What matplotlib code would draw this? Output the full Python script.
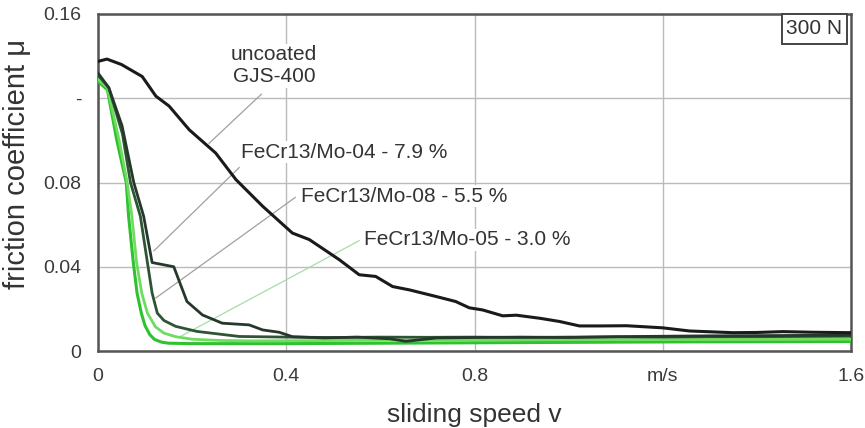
import matplotlib
matplotlib.use("Agg")
import matplotlib.pyplot as plt
from matplotlib.patches import Rectangle

plt.rcParams['font.family'] = ['Liberation Sans', 'DejaVu Sans']

# sliding speed v (m/s) and friction coefficient mu for each material
uncoated_v = [0, 0.019, 0.05, 0.094, 0.123, 0.151, 0.194, 0.25, 0.293, 0.35, 0.413,
              0.449, 0.513, 0.555, 0.59, 0.626, 0.662, 0.718, 0.76, 0.789, 0.817,
              0.86, 0.889, 0.94, 0.981, 1.023, 1.066, 1.123, 1.2, 1.257, 1.349,
              1.40, 1.455, 1.52, 1.6]
uncoated_mu = [0.1375, 0.1386, 0.136, 0.1303, 0.121, 0.1163, 0.105, 0.094, 0.0814,
               0.0687, 0.056, 0.0529, 0.0433, 0.0362, 0.0354, 0.0306, 0.029, 0.0259,
               0.0235, 0.0205, 0.0195, 0.0167, 0.017, 0.0155, 0.014, 0.0119, 0.0119,
               0.012, 0.011, 0.0095, 0.0087, 0.0088, 0.0092, 0.0089, 0.0087]

mo04_v = [0, 0.023, 0.051, 0.076, 0.097, 0.115, 0.161, 0.189, 0.222, 0.264, 0.321,
          0.35, 0.385, 0.413, 0.48, 0.55, 0.62, 0.654, 0.72, 0.8, 0.9, 1.0, 1.1,
          1.2, 1.3, 1.4, 1.5, 1.6]
mo04_mu = [0.132, 0.125, 0.107, 0.080, 0.064, 0.042, 0.040, 0.0235, 0.0171, 0.0132,
           0.0124, 0.010, 0.0089, 0.0068, 0.0062, 0.0066, 0.0058, 0.0046, 0.0062,
           0.0064, 0.0066, 0.0064, 0.0068, 0.0070, 0.0072, 0.0073, 0.0074, 0.0075]

mo08_v = [0, 0.023, 0.052, 0.069, 0.090, 0.105, 0.115, 0.126, 0.14, 0.165, 0.21,
          0.30, 0.40, 0.5, 0.6, 0.7, 0.8, 0.9, 1.0, 1.1, 1.2, 1.3, 1.4, 1.5, 1.6]
mo08_mu = [0.131, 0.125, 0.103, 0.080, 0.064, 0.042, 0.0275, 0.018, 0.0145, 0.0117,
           0.0093, 0.0069, 0.0066, 0.0064, 0.0066, 0.0065, 0.0066, 0.0064, 0.0066,
           0.0067, 0.0066, 0.0068, 0.0068, 0.0069, 0.0070]

mo05_v = [0, 0.02, 0.045, 0.062, 0.072, 0.082, 0.093, 0.105, 0.122, 0.14, 0.165,
          0.2, 0.26, 0.33, 0.5, 0.7, 0.9, 1.1, 1.3, 1.5, 1.6]
mo05_mu = [0.129, 0.125, 0.100, 0.080, 0.064, 0.042, 0.0275, 0.018, 0.0115, 0.0085,
           0.0068, 0.0056, 0.0050, 0.0048, 0.0050, 0.0052, 0.0053, 0.0054, 0.0055,
           0.0056, 0.0056]

base_v = [0, 0.02, 0.04, 0.06, 0.065, 0.075, 0.083, 0.092, 0.10, 0.11, 0.12, 0.135,
          0.15, 0.2, 0.4, 0.6, 0.8, 1.0, 1.2, 1.4, 1.6]
base_mu = [0.128, 0.124, 0.100, 0.080, 0.064, 0.042, 0.0275, 0.018, 0.012, 0.0078,
           0.0055, 0.0042, 0.0037, 0.0035, 0.0035, 0.0037, 0.0039, 0.0041, 0.0043,
           0.0044, 0.0045]

x_ticks = [0, 0.4, 0.8, 1.2, 1.6]
x_ticklabels = ['0', '0.4', '0.8', 'm/s', '1.6']
y_ticks = [0, 0.04, 0.08, 0.12, 0.16]
y_ticklabels = ['0', '0.04', '0.08', '-', '0.16']

labels = ['uncoated\nGJS-400', 'FeCr13/Mo-04 - 7.9 %',
          'FeCr13/Mo-08 - 5.5 %', 'FeCr13/Mo-05 - 3.0 %']

fig = plt.figure(figsize=(8.65, 4.28), dpi=100)
ax = fig.add_axes([98 / 865, 1 - 351 / 428, 753 / 865, 337 / 428])

ax.set_xlim(0, 1.6)
ax.set_ylim(0, 0.16)
ax.set_xticks(x_ticks)
ax.set_xticklabels(x_ticklabels)
ax.set_yticks(y_ticks)
ax.set_yticklabels(y_ticklabels)
ax.tick_params(length=0, labelsize=14, labelcolor='#3a3a3a', pad=12)
ax.grid(True, color='#bbbbbb', linewidth=1.0)
ax.set_axisbelow(True)
for s in ax.spines.values():
    s.set_color('#555555')
    s.set_linewidth(1.8)

ax.set_xlabel('sliding speed v', fontsize=19, color='#333333')
ax.xaxis.set_label_coords(0.5, -0.155)
ax.set_ylabel('friction coefficient μ', fontsize=21, color='#333333')
ax.yaxis.set_label_coords(-0.089, 0.555)

# curves
ax.plot(base_v, base_mu, color='#2ec22e', lw=2.2, zorder=4)
ax.plot(mo05_v, mo05_mu, color='#6fdc5f', lw=2.0, zorder=4)
ax.plot(mo08_v, mo08_mu, color='#2d5534', lw=2.0, zorder=5)
ax.plot(mo04_v, mo04_mu, color='#26382b', lw=2.0, zorder=5)
ax.plot(uncoated_v, uncoated_mu, color='#1a1a1a', lw=2.2, zorder=6)

# labels with leader lines
text_kw = dict(fontsize=15, color='#333333', zorder=3,
               bbox=dict(facecolor='white', edgecolor='none', pad=1))
ax.text(0.374, 0.1355, labels[0], ha='center', va='center', linespacing=1.2, **text_kw)
ax.text(0.3036, 0.0943, labels[1], ha='left', va='center', **text_kw)
ax.text(0.431, 0.0735, labels[2], ha='left', va='center', **text_kw)
ax.text(0.566, 0.0529, labels[3], ha='left', va='center', **text_kw)

leader_kw = dict(color='#a0a0a0', lw=0.9, zorder=2)
ax.plot([0.347, 0.236], [0.1219, 0.0986], **leader_kw)
ax.plot([0.300, 0.119], [0.0871, 0.0476], **leader_kw)
ax.plot([0.419, 0.123], [0.0729, 0.0252], **leader_kw)
ax.plot([0.555, 0.177], [0.0524, 0.0071], color='#a8dca8', lw=0.9, zorder=2)

# load annotation box in the top right corner
ax.add_patch(Rectangle((0.908, 0.911), 0.0867, 0.089, transform=ax.transAxes,
                       facecolor='white', edgecolor='#444444', linewidth=1.4,
                       zorder=7, clip_on=False))
ax.text(0.9515, 0.9555, '300 N', transform=ax.transAxes, ha='center', va='center',
        fontsize=15, color='#333333', zorder=8)

fig.savefig('out.png', dpi=100)
